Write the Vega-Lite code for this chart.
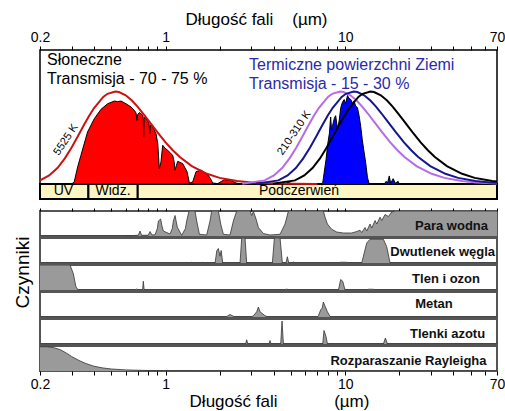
{
  "$schema": "https://vega.github.io/schema/vega-lite/v6.json",
  "padding": {"left": 12, "top": 9, "right": 0, "bottom": 0},
  "background": "white",
  "config": {"font": "Liberation Sans", "view": {"stroke": null}},
  "datasets": {
    "solarfill": [{"wl":0.2,"v":0},{"wl":0.3,"v":0},{"wl":0.31,"v":0.015},{"wl":0.324,"v":0.127},{"wl":0.338,"v":0.214},{"wl":0.368,"v":0.388},{"wl":0.401,"v":0.487},{"wl":0.437,"v":0.557},{"wl":0.476,"v":0.599},{"wl":0.519,"v":0.619},{"wl":0.54,"v":0.615},{"wl":0.565,"v":0.619},{"wl":0.602,"v":0.599},{"wl":0.642,"v":0.575},{"wl":0.67,"v":0.55},{"wl":0.685,"v":0.53},{"wl":0.693,"v":0.475},{"wl":0.7,"v":0.52},{"wl":0.715,"v":0.533},{"wl":0.746,"v":0.515},{"wl":0.752,"v":0.49},{"wl":0.755,"v":0.35},{"wl":0.76,"v":0.48},{"wl":0.768,"v":0.5},{"wl":0.802,"v":0.463},{"wl":0.81,"v":0.45},{"wl":0.816,"v":0.375},{"wl":0.825,"v":0.44},{"wl":0.837,"v":0.44},{"wl":0.885,"v":0.375},{"wl":0.905,"v":0.3},{"wl":0.923,"v":0.114},{"wl":0.943,"v":0.164},{"wl":0.964,"v":0.289},{"wl":0.99,"v":0.27},{"wl":1.028,"v":0.251},{"wl":1.096,"v":0.214},{"wl":1.115,"v":0.17},{"wl":1.129,"v":0.102},{"wl":1.15,"v":0.14},{"wl":1.169,"v":0.169},{"wl":1.246,"v":0.152},{"wl":1.317,"v":0.092},{"wl":1.357,"v":0.0075},{"wl":1.416,"v":0.0149},{"wl":1.478,"v":0.092},{"wl":1.576,"v":0.104},{"wl":1.716,"v":0.07},{"wl":1.78,"v":0.04},{"wl":1.829,"v":0.0075},{"wl":1.951,"v":0.003},{"wl":2.05,"v":0.02},{"wl":2.125,"v":0.032},{"wl":2.314,"v":0.027},{"wl":2.468,"v":0.0075},{"wl":2.632,"v":0},{"wl":3.0,"v":0},{"wl":3.2,"v":0.006},{"wl":3.5,"v":0.008},{"wl":3.9,"v":0.004},{"wl":4.2,"v":0},{"wl":70,"v":0}],
    "earthfill": [{"wl":0.2,"v":0},{"wl":4.6,"v":0},{"wl":4.8,"v":0.012},{"wl":5.0,"v":0.005},{"wl":5.2,"v":0},{"wl":7.3,"v":0},{"wl":7.5,"v":0.01},{"wl":7.82,"v":0.18},{"wl":8.0,"v":0.3},{"wl":8.17,"v":0.38},{"wl":8.3,"v":0.5},{"wl":8.4,"v":0.4},{"wl":8.49,"v":0.43},{"wl":8.7,"v":0.49},{"wl":8.85,"v":0.51},{"wl":9.06,"v":0.41},{"wl":9.25,"v":0.47},{"wl":9.45,"v":0.57},{"wl":9.65,"v":0.61},{"wl":9.87,"v":0.63},{"wl":10.05,"v":0.6},{"wl":10.3,"v":0.66},{"wl":10.5,"v":0.64},{"wl":10.75,"v":0.63},{"wl":11.0,"v":0.6},{"wl":11.2,"v":0.62},{"wl":11.45,"v":0.58},{"wl":11.7,"v":0.57},{"wl":11.95,"v":0.51},{"wl":12.2,"v":0.43},{"wl":12.45,"v":0.33},{"wl":12.7,"v":0.25},{"wl":13.0,"v":0.16},{"wl":13.3,"v":0.05},{"wl":13.6,"v":0},{"wl":16.5,"v":0},{"wl":16.9,"v":0.02},{"wl":17.2,"v":0.005},{"wl":17.6,"v":0.06},{"wl":17.9,"v":0.005},{"wl":18.5,"v":0.04},{"wl":19.0,"v":0.005},{"wl":19.7,"v":0.02},{"wl":20,"v":0},{"wl":70,"v":0}],
    "curves": [
      {"s":"5525K","wl":0.2,"v":0.027},{"s":"5525K","wl":0.225,"v":0.064},{"s":"5525K","wl":0.25,"v":0.119},{"s":"5525K","wl":0.275,"v":0.191},{"s":"5525K","wl":0.3,"v":0.273},{"s":"5525K","wl":0.325,"v":0.356},{"s":"5525K","wl":0.35,"v":0.436},{"s":"5525K","wl":0.375,"v":0.507},{"s":"5525K","wl":0.4,"v":0.567},{"s":"5525K","wl":0.45,"v":0.65},{"s":"5525K","wl":0.475,"v":0.673},{"s":"5525K","wl":0.5245,"v":0.69},{"s":"5525K","wl":0.55,"v":0.686},{"s":"5525K","wl":0.6,"v":0.662},{"s":"5525K","wl":0.65,"v":0.623},{"s":"5525K","wl":0.7,"v":0.576},{"s":"5525K","wl":0.75,"v":0.526},{"s":"5525K","wl":0.8,"v":0.477},{"s":"5525K","wl":0.9,"v":0.387},{"s":"5525K","wl":1.0,"v":0.311},{"s":"5525K","wl":1.1,"v":0.25},{"s":"5525K","wl":1.2,"v":0.202},{"s":"5525K","wl":1.4,"v":0.134},{"s":"5525K","wl":1.7,"v":0.076},{"s":"5525K","wl":2.0,"v":0.0455},{"s":"5525K","wl":2.5,"v":0.0217},{"s":"5525K","wl":3,"v":0.0116},{"s":"5525K","wl":4,"v":0.0041},{"s":"5525K","wl":5,"v":0.0018},{"s":"5525K","wl":7,"v":0.0005},
      {"s":"310K","wl":2.673,"v":0.0015},{"s":"310K","wl":3.564,"v":0.027},{"s":"310K","wl":4.01,"v":0.064},{"s":"310K","wl":4.455,"v":0.119},{"s":"310K","wl":4.9,"v":0.191},{"s":"310K","wl":5.346,"v":0.273},{"s":"310K","wl":5.79,"v":0.356},{"s":"310K","wl":6.237,"v":0.436},{"s":"310K","wl":6.68,"v":0.507},{"s":"310K","wl":7.128,"v":0.567},{"s":"310K","wl":8.019,"v":0.65},{"s":"310K","wl":8.46,"v":0.673},{"s":"310K","wl":9.35,"v":0.69},{"s":"310K","wl":9.8,"v":0.686},{"s":"310K","wl":10.69,"v":0.662},{"s":"310K","wl":11.58,"v":0.623},{"s":"310K","wl":12.47,"v":0.576},{"s":"310K","wl":13.37,"v":0.526},{"s":"310K","wl":14.26,"v":0.477},{"s":"310K","wl":16.04,"v":0.387},{"s":"310K","wl":17.82,"v":0.311},{"s":"310K","wl":19.6,"v":0.25},{"s":"310K","wl":21.38,"v":0.202},{"s":"310K","wl":24.95,"v":0.134},{"s":"310K","wl":30.29,"v":0.076},{"s":"310K","wl":35.64,"v":0.0455},{"s":"310K","wl":44.55,"v":0.0217},{"s":"310K","wl":53.46,"v":0.0116},{"s":"310K","wl":71.28,"v":0.0041},
      {"s":"260K","wl":3.19,"v":0.0015},{"s":"260K","wl":4.25,"v":0.027},{"s":"260K","wl":4.78,"v":0.064},{"s":"260K","wl":5.31,"v":0.119},{"s":"260K","wl":5.84,"v":0.191},{"s":"260K","wl":6.375,"v":0.273},{"s":"260K","wl":6.91,"v":0.356},{"s":"260K","wl":7.44,"v":0.436},{"s":"260K","wl":7.97,"v":0.507},{"s":"260K","wl":8.5,"v":0.567},{"s":"260K","wl":9.56,"v":0.65},{"s":"260K","wl":10.09,"v":0.673},{"s":"260K","wl":11.15,"v":0.69},{"s":"260K","wl":11.69,"v":0.686},{"s":"260K","wl":12.75,"v":0.662},{"s":"260K","wl":13.81,"v":0.623},{"s":"260K","wl":14.88,"v":0.576},{"s":"260K","wl":15.94,"v":0.526},{"s":"260K","wl":17.0,"v":0.477},{"s":"260K","wl":19.13,"v":0.387},{"s":"260K","wl":21.25,"v":0.311},{"s":"260K","wl":23.38,"v":0.25},{"s":"260K","wl":25.5,"v":0.202},{"s":"260K","wl":29.75,"v":0.134},{"s":"260K","wl":36.13,"v":0.076},{"s":"260K","wl":42.5,"v":0.0455},{"s":"260K","wl":53.13,"v":0.0217},{"s":"260K","wl":63.75,"v":0.0116},{"s":"260K","wl":85,"v":0.0041},
      {"s":"210K","wl":3.95,"v":0.0015},{"s":"210K","wl":5.26,"v":0.027},{"s":"210K","wl":5.92,"v":0.064},{"s":"210K","wl":6.58,"v":0.119},{"s":"210K","wl":7.24,"v":0.191},{"s":"210K","wl":7.89,"v":0.273},{"s":"210K","wl":8.55,"v":0.356},{"s":"210K","wl":9.21,"v":0.436},{"s":"210K","wl":9.87,"v":0.507},{"s":"210K","wl":10.52,"v":0.567},{"s":"210K","wl":11.84,"v":0.65},{"s":"210K","wl":12.5,"v":0.673},{"s":"210K","wl":13.8,"v":0.69},{"s":"210K","wl":14.47,"v":0.686},{"s":"210K","wl":15.79,"v":0.662},{"s":"210K","wl":17.1,"v":0.623},{"s":"210K","wl":18.42,"v":0.576},{"s":"210K","wl":19.73,"v":0.526},{"s":"210K","wl":21.05,"v":0.477},{"s":"210K","wl":23.68,"v":0.387},{"s":"210K","wl":26.31,"v":0.311},{"s":"210K","wl":28.94,"v":0.25},{"s":"210K","wl":31.57,"v":0.202},{"s":"210K","wl":36.83,"v":0.134},{"s":"210K","wl":44.73,"v":0.076},{"s":"210K","wl":52.62,"v":0.0455},{"s":"210K","wl":65.78,"v":0.0217},{"s":"210K","wl":78.93,"v":0.0116}
    ],
    "bands": [{"name":"UV","from":0.2,"to":0.372},{"name":"Widz.","from":0.372,"to":0.7},{"name":"Podczerwień","from":0.7,"to":70}],
    "para": [{"wl":0.2,"v":0},{"wl":0.56,"v":0},{"wl":0.582,"v":0.02},{"wl":0.662,"v":0.02},{"wl":0.705,"v":0.03},{"wl":0.721,"v":0.2},{"wl":0.735,"v":0.03},{"wl":0.8,"v":0.03},{"wl":0.82,"v":0.18},{"wl":0.84,"v":0.04},{"wl":0.874,"v":0.05},{"wl":0.9,"v":0.3},{"wl":0.912,"v":0.6},{"wl":0.939,"v":0.68},{"wl":0.955,"v":0.4},{"wl":0.972,"v":0.2},{"wl":1.059,"v":0.08},{"wl":1.09,"v":0.3},{"wl":1.105,"v":0.6},{"wl":1.129,"v":0.82},{"wl":1.163,"v":0.35},{"wl":1.23,"v":0.03},{"wl":1.29,"v":0.3},{"wl":1.311,"v":0.6},{"wl":1.351,"v":1},{"wl":1.459,"v":1},{"wl":1.491,"v":0.6},{"wl":1.543,"v":0.07},{"wl":1.694,"v":0.04},{"wl":1.768,"v":0.6},{"wl":1.806,"v":1},{"wl":1.968,"v":1},{"wl":2.028,"v":0.48},{"wl":2.098,"v":0.07},{"wl":2.285,"v":0.04},{"wl":2.385,"v":0.6},{"wl":2.489,"v":1},{"wl":2.953,"v":1},{"wl":3.017,"v":0.82},{"wl":3.083,"v":0.98},{"wl":3.19,"v":0.68},{"wl":3.287,"v":0.34},{"wl":3.504,"v":0.1},{"wl":3.816,"v":0.04},{"wl":4.338,"v":0.07},{"wl":4.626,"v":0.48},{"wl":4.83,"v":1},{"wl":7.56,"v":1},{"wl":7.73,"v":0.75},{"wl":7.96,"v":0.48},{"wl":8.41,"v":0.27},{"wl":8.97,"v":0.16},{"wl":9.77,"v":0.12},{"wl":10.87,"v":0.12},{"wl":11.59,"v":0.18},{"wl":12.1,"v":0.23},{"wl":12.36,"v":0.14},{"wl":12.9,"v":0.34},{"wl":13.18,"v":0.2},{"wl":13.75,"v":0.48},{"wl":14.05,"v":0.32},{"wl":14.67,"v":0.62},{"wl":14.98,"v":0.48},{"wl":15.64,"v":0.75},{"wl":15.98,"v":0.62},{"wl":16.67,"v":0.86},{"wl":17.4,"v":0.78},{"wl":18.16,"v":0.96},{"wl":18.95,"v":1},{"wl":70,"v":1}],
    "co2": [{"wl":0.2,"v":0},{"wl":1.37,"v":0},{"wl":1.4,"v":0.03},{"wl":1.43,"v":0},{"wl":1.58,"v":0},{"wl":1.6,"v":0.03},{"wl":1.62,"v":0},{"wl":1.886,"v":0},{"wl":1.93,"v":0.5},{"wl":1.968,"v":0.58},{"wl":2.01,"v":0.27},{"wl":2.04,"v":0.5},{"wl":2.08,"v":0},{"wl":2.598,"v":0},{"wl":2.654,"v":1},{"wl":2.77,"v":1},{"wl":2.829,"v":0},{"wl":3.932,"v":0},{"wl":4.035,"v":1},{"wl":4.338,"v":1},{"wl":4.47,"v":0},{"wl":4.685,"v":0},{"wl":4.765,"v":0.25},{"wl":4.85,"v":0},{"wl":5.1,"v":0},{"wl":5.147,"v":0.05},{"wl":5.2,"v":0},{"wl":9.2,"v":0},{"wl":9.36,"v":0.03},{"wl":10.2,"v":0.03},{"wl":10.4,"v":0},{"wl":12.36,"v":0},{"wl":13.18,"v":0.8},{"wl":13.75,"v":0.95},{"wl":16.32,"v":0.95},{"wl":17.03,"v":0.65},{"wl":17.78,"v":0},{"wl":70,"v":0}],
    "ozon": [{"wl":0.2,"v":1},{"wl":0.294,"v":1},{"wl":0.3066,"v":0.65},{"wl":0.3172,"v":0.12},{"wl":0.327,"v":0},{"wl":0.68,"v":0},{"wl":0.69,"v":0.05},{"wl":0.7,"v":0},{"wl":0.745,"v":0},{"wl":0.752,"v":0.35},{"wl":0.76,"v":0},{"wl":1.24,"v":0},{"wl":1.256,"v":0.02},{"wl":1.27,"v":0},{"wl":4.65,"v":0},{"wl":4.725,"v":0.05},{"wl":4.8,"v":0},{"wl":9.17,"v":0},{"wl":9.44,"v":0.42},{"wl":9.69,"v":0.35},{"wl":9.98,"v":0},{"wl":13.1,"v":0},{"wl":13.46,"v":0.03},{"wl":14.35,"v":0.03},{"wl":14.6,"v":0},{"wl":70,"v":0}],
    "metan": [{"wl":0.2,"v":0},{"wl":1.6,"v":0},{"wl":1.623,"v":0.02},{"wl":1.65,"v":0},{"wl":2.15,"v":0},{"wl":2.189,"v":0.02},{"wl":2.285,"v":0.1},{"wl":2.385,"v":0.03},{"wl":2.45,"v":0},{"wl":3.0,"v":0},{"wl":3.083,"v":0.05},{"wl":3.217,"v":0.21},{"wl":3.287,"v":0.4},{"wl":3.357,"v":0.21},{"wl":3.579,"v":0.05},{"wl":3.735,"v":0},{"wl":6.3,"v":0},{"wl":6.37,"v":0.03},{"wl":6.45,"v":0},{"wl":7.0,"v":0},{"wl":7.09,"v":0.05},{"wl":7.31,"v":0.29},{"wl":7.45,"v":0.36},{"wl":7.56,"v":0.6},{"wl":7.73,"v":0.43},{"wl":7.96,"v":0.21},{"wl":8.24,"v":0.02},{"wl":8.4,"v":0},{"wl":70,"v":0}],
    "azot": [{"wl":0.2,"v":0},{"wl":2.79,"v":0},{"wl":2.829,"v":0.17},{"wl":2.87,"v":0},{"wl":3.77,"v":0},{"wl":3.816,"v":0.14},{"wl":3.86,"v":0},{"wl":4.375,"v":0},{"wl":4.45,"v":0.92},{"wl":4.53,"v":0},{"wl":7.5,"v":0},{"wl":7.62,"v":0.54},{"wl":7.82,"v":0.3},{"wl":7.96,"v":0},{"wl":8.45,"v":0},{"wl":8.5,"v":0.03},{"wl":8.56,"v":0},{"wl":16.32,"v":0},{"wl":16.74,"v":0.24},{"wl":17.18,"v":0},{"wl":70,"v":0}],
    "rayleigh": [{"wl":0.2,"v":0.97},{"wl":0.22,"v":0.97},{"wl":0.24,"v":0.93},{"wl":0.26,"v":0.85},{"wl":0.28,"v":0.72},{"wl":0.3,"v":0.58},{"wl":0.33,"v":0.42},{"wl":0.36,"v":0.3},{"wl":0.4,"v":0.19},{"wl":0.45,"v":0.12},{"wl":0.5,"v":0.08},{"wl":0.6,"v":0.045},{"wl":0.7,"v":0.03},{"wl":0.8,"v":0.02},{"wl":1.0,"v":0.01},{"wl":1.2,"v":0.004},{"wl":1.5,"v":0},{"wl":70,"v":0}],
    "one": [{}]
  },
  "spacing": 2,
  "bounds": "flush",
  "vconcat": [
    {
      "width": 457, "height": 149,
      "view": {"stroke": "black", "strokeWidth": 1.5},
      "layer": [
        {"data": {"name": "bands"},
         "mark": {"type": "rect", "fill": "#fdf6c3", "stroke": "black", "strokeWidth": 2},
         "encoding": {
           "x": {"field": "from", "type": "quantitative", "scale": {"type": "log", "domain": [0.2, 70], "nice": false},
                 "axis": {"orient": "top", "values": [0.2,0.3,0.4,0.5,0.6,0.7,0.8,0.9,1,2,3,4,5,6,7,8,9,10,20,30,40,50,60,70],
                          "labelExpr": "datum.value == 0.2 ? '0.2' : datum.value == 1 ? '1' : datum.value == 10 ? '10' : datum.value == 70 ? '70' : ''",
                          "title": "Długość fali\u00a0\u00a0\u00a0\u00a0(µm)", "titleFontSize": 17, "titleFontWeight": "normal", "titleColor": "black", "titlePadding": 2, "titleX": 216,
                          "labelFontSize": 14, "labelColor": "black", "labelFlush": false, "labelOverlap": false, "labelPadding": 2,
                          "tickSize": 4, "tickColor": "black", "domain": false, "grid": false}},
           "x2": {"field": "to"},
           "y": {"datum": 0, "type": "quantitative", "scale": {"domain": [-0.112, 1], "nice": false, "zero": false}, "axis": null},
           "y2": {"datum": -0.112}}},
        {"data": {"name": "solarfill"},
         "mark": {"type": "area", "color": "#ff0000", "opacity": 1, "line": {"color": "black", "strokeWidth": 1}, "clip": true},
         "encoding": {"x": {"field": "wl", "type": "quantitative"}, "y": {"field": "v", "type": "quantitative"}, "y2": {"datum": 0}}},
        {"data": {"name": "earthfill"},
         "mark": {"type": "area", "color": "#0000ff", "opacity": 1, "line": {"color": "black", "strokeWidth": 1}, "clip": true},
         "encoding": {"x": {"field": "wl", "type": "quantitative"}, "y": {"field": "v", "type": "quantitative"}, "y2": {"datum": 0}}},
        {"data": {"name": "curves"},
         "mark": {"type": "line", "strokeWidth": 2, "clip": true},
         "encoding": {"x": {"field": "wl", "type": "quantitative"}, "y": {"field": "v", "type": "quantitative"},
                      "color": {"field": "s", "type": "nominal", "scale": {"domain": ["5525K", "310K", "260K", "210K"], "range": ["#cc1111", "#b46ce6", "#16168f", "#000000"]}, "legend": null}}},
        {"data": {"name": "one"}, "mark": {"type": "text", "text": "Słoneczne", "align": "left", "baseline": "middle", "fontSize": 16, "color": "black"},
         "encoding": {"x": {"datum": 0.219, "type": "quantitative"}, "y": {"datum": 0.925, "type": "quantitative"}}},
        {"data": {"name": "one"}, "mark": {"type": "text", "text": "Transmisja - 70 - 75 %", "align": "left", "baseline": "middle", "fontSize": 16, "color": "black"},
         "encoding": {"x": {"datum": 0.219, "type": "quantitative"}, "y": {"datum": 0.78, "type": "quantitative"}}},
        {"data": {"name": "one"}, "mark": {"type": "text", "text": "Termiczne powierzchni Ziemi", "align": "left", "baseline": "middle", "fontSize": 16, "color": "#2a2aaa"},
         "encoding": {"x": {"datum": 2.915, "type": "quantitative"}, "y": {"datum": 0.89, "type": "quantitative"}}},
        {"data": {"name": "one"}, "mark": {"type": "text", "text": "Transmisja - 15 - 30 %", "align": "left", "baseline": "middle", "fontSize": 16, "color": "#2a2aaa"},
         "encoding": {"x": {"datum": 2.915, "type": "quantitative"}, "y": {"datum": 0.748, "type": "quantitative"}}},
        {"data": {"name": "one"}, "mark": {"type": "text", "text": "5525 K", "align": "center", "baseline": "middle", "fontSize": 11, "angle": 304, "color": "black"},
         "encoding": {"x": {"datum": 0.279, "type": "quantitative"}, "y": {"datum": 0.33, "type": "quantitative"}}},
        {"data": {"name": "one"}, "mark": {"type": "text", "text": "210-310 K", "align": "center", "baseline": "middle", "fontSize": 11, "angle": 304, "color": "black"},
         "encoding": {"x": {"datum": 5.21, "type": "quantitative"}, "y": {"datum": 0.38, "type": "quantitative"}}},
        {"data": {"name": "one"}, "mark": {"type": "text", "text": "UV", "fontSize": 14, "baseline": "middle", "color": "black"},
         "encoding": {"x": {"datum": 0.27, "type": "quantitative"}, "y": {"datum": -0.056, "type": "quantitative"}}},
        {"data": {"name": "one"}, "mark": {"type": "text", "text": "Widz.", "fontSize": 14, "baseline": "middle", "color": "black"},
         "encoding": {"x": {"datum": 0.51, "type": "quantitative"}, "y": {"datum": -0.056, "type": "quantitative"}}},
        {"data": {"name": "one"}, "mark": {"type": "text", "text": "Podczerwień", "fontSize": 14, "baseline": "middle", "color": "black"},
         "encoding": {"x": {"datum": 5.53, "type": "quantitative"}, "y": {"datum": -0.056, "type": "quantitative"}}}
      ]
    },
    {
      "width": 457, "height": 8,
      "data": {"name": "one"},
      "mark": {"type": "text", "text": ""},
      "encoding": {}
    },
    {
      "width": 457, "height": 25,
      "view": {"stroke": "#555", "strokeWidth": 2},
      "layer": [
        {"data": {"name": "para"},
         "mark": {"type": "area", "color": "#9a9a9a", "opacity": 1, "line": {"color": "#333", "strokeWidth": 0.8}, "clip": true},
         "encoding": {"x": {"field": "wl", "type": "quantitative", "scale": {"type": "log", "domain": [0.2, 70], "nice": false},
                            "axis": {"orient": "top", "values": [0.2,0.3,0.4,0.5,0.6,0.7,0.8,0.9,1,2,3,4,5,6,7,8,9,10,20,30,40,50,60,70], "labels": false, "title": null, "tickSize": 3, "tickColor": "black", "domain": false, "grid": false}},
                      "y": {"field": "v", "type": "quantitative", "scale": {"domain": [0, 1], "nice": false}, "axis": null}}},
        {"data": {"name": "one"}, "mark": {"type": "text", "text": "Para wodna", "align": "right", "baseline": "middle", "fontSize": 13, "fontWeight": "bold", "color": "#111"},
         "encoding": {"x": {"datum": 62.4, "type": "quantitative"}, "y": {"datum": 0.4, "type": "quantitative", "axis": null}}}
      ]
    },
    {
      "width": 457, "height": 25,
      "view": {"stroke": "#555", "strokeWidth": 2},
      "layer": [
        {"data": {"name": "co2"},
         "mark": {"type": "area", "color": "#9a9a9a", "opacity": 1, "line": {"color": "#333", "strokeWidth": 0.8}, "clip": true},
         "encoding": {"x": {"field": "wl", "type": "quantitative", "scale": {"type": "log", "domain": [0.2, 70], "nice": false}, "axis": null},
                      "y": {"field": "v", "type": "quantitative", "scale": {"domain": [0, 1], "nice": false}, "axis": null}}},
        {"data": {"name": "one"}, "mark": {"type": "text", "text": "Dwutlenek węgla", "align": "right", "baseline": "middle", "fontSize": 13, "fontWeight": "bold", "color": "#111"},
         "encoding": {"x": {"datum": 68.3, "type": "quantitative", "axis": null}, "y": {"datum": 0.44, "type": "quantitative", "axis": null}}}
      ]
    },
    {
      "width": 457, "height": 25,
      "view": {"stroke": "#555", "strokeWidth": 2},
      "layer": [
        {"data": {"name": "ozon"},
         "mark": {"type": "area", "color": "#9a9a9a", "opacity": 1, "line": {"color": "#333", "strokeWidth": 0.8}, "clip": true},
         "encoding": {"x": {"field": "wl", "type": "quantitative", "scale": {"type": "log", "domain": [0.2, 70], "nice": false}, "axis": null},
                      "y": {"field": "v", "type": "quantitative", "scale": {"domain": [0, 1], "nice": false},
                            "axis": {"title": "Czynniki", "labels": false, "ticks": false, "domain": false, "grid": false, "titleFontSize": 19, "titleFontWeight": "normal", "titleColor": "black", "titlePadding": 8, "titleY": 7}}}},
        {"data": {"name": "one"}, "mark": {"type": "text", "text": "Tlen i ozon", "align": "right", "baseline": "middle", "fontSize": 13, "fontWeight": "bold", "color": "#111"},
         "encoding": {"x": {"datum": 56.3, "type": "quantitative", "axis": null}, "y": {"datum": 0.44, "type": "quantitative"}}}
      ]
    },
    {
      "width": 457, "height": 25,
      "view": {"stroke": "#555", "strokeWidth": 2},
      "layer": [
        {"data": {"name": "metan"},
         "mark": {"type": "area", "color": "#9a9a9a", "opacity": 1, "line": {"color": "#333", "strokeWidth": 0.8}, "clip": true},
         "encoding": {"x": {"field": "wl", "type": "quantitative", "scale": {"type": "log", "domain": [0.2, 70], "nice": false}, "axis": null},
                      "y": {"field": "v", "type": "quantitative", "scale": {"domain": [0, 1], "nice": false}, "axis": null}}},
        {"data": {"name": "one"}, "mark": {"type": "text", "text": "Metan", "align": "center", "baseline": "middle", "fontSize": 13, "fontWeight": "bold", "color": "#111"},
         "encoding": {"x": {"datum": 31.2, "type": "quantitative", "axis": null}, "y": {"datum": 0.52, "type": "quantitative", "axis": null}}}
      ]
    },
    {
      "width": 457, "height": 25,
      "view": {"stroke": "#555", "strokeWidth": 2},
      "layer": [
        {"data": {"name": "azot"},
         "mark": {"type": "area", "color": "#9a9a9a", "opacity": 1, "line": {"color": "#333", "strokeWidth": 0.8}, "clip": true},
         "encoding": {"x": {"field": "wl", "type": "quantitative", "scale": {"type": "log", "domain": [0.2, 70], "nice": false}, "axis": null},
                      "y": {"field": "v", "type": "quantitative", "scale": {"domain": [0, 1], "nice": false}, "axis": null}}},
        {"data": {"name": "one"}, "mark": {"type": "text", "text": "Tlenki azotu", "align": "right", "baseline": "middle", "fontSize": 13, "fontWeight": "bold", "color": "#111"},
         "encoding": {"x": {"datum": 60.1, "type": "quantitative", "axis": null}, "y": {"datum": 0.4, "type": "quantitative", "axis": null}}}
      ]
    },
    {
      "width": 457, "height": 25,
      "view": {"stroke": "#555", "strokeWidth": 2},
      "layer": [
        {"data": {"name": "rayleigh"},
         "mark": {"type": "area", "color": "#9a9a9a", "opacity": 1, "line": {"color": "#333", "strokeWidth": 0.8}, "clip": true},
         "encoding": {"x": {"field": "wl", "type": "quantitative", "scale": {"type": "log", "domain": [0.2, 70], "nice": false},
                            "axis": {"orient": "bottom", "values": [0.2,0.3,0.4,0.5,0.6,0.7,0.8,0.9,1,2,3,4,5,6,7,8,9,10,20,30,40,50,60,70],
                                     "labelExpr": "datum.value == 0.2 ? '0.2' : datum.value == 1 ? '1' : datum.value == 10 ? '10' : datum.value == 70 ? '70' : ''",
                                     "title": "Długość fali\u00a0\u00a0\u00a0\u00a0\u00a0\u00a0\u00a0\u00a0\u00a0\u00a0\u00a0\u00a0(µm)", "titleFontSize": 17, "titleFontWeight": "normal", "titleColor": "black", "titlePadding": 2, "titleX": 239,
                                     "labelFontSize": 14, "labelColor": "black", "labelFlush": false, "labelOverlap": false, "labelPadding": 2,
                                     "tickSize": 4, "tickColor": "black", "domain": false, "grid": false}},
                      "y": {"field": "v", "type": "quantitative", "scale": {"domain": [0, 1], "nice": false}, "axis": null}}},
        {"data": {"name": "one"}, "mark": {"type": "text", "text": "Rozparaszanie Rayleigha", "align": "right", "baseline": "middle", "fontSize": 13, "fontWeight": "bold", "color": "#111"},
         "encoding": {"x": {"datum": 61.2, "type": "quantitative"}, "y": {"datum": 0.4, "type": "quantitative", "axis": null}}}
      ]
    }
  ]
}
